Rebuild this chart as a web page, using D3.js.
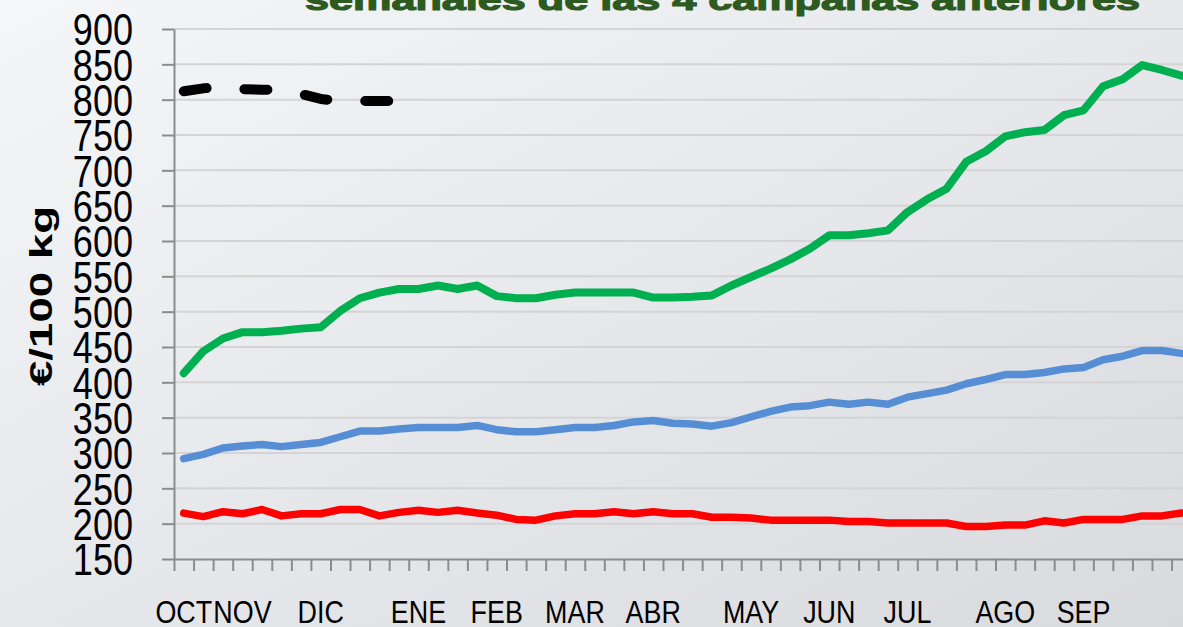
<!DOCTYPE html>
<html>
<head>
<meta charset="utf-8">
<script src="https://cdn.jsdelivr.net/npm/d3@7"></script>
<style>
  html, body { margin: 0; padding: 0; overflow: hidden; }
  svg { display: block; }
</style>
</head>
<body>
<svg id="chart" width="1183" height="627"></svg>
<script>
// ---- data ----
const weeks = d3.range(52);
const monthLabels = ["OCT","NOV","DIC","ENE","FEB","MAR","ABR","MAY","JUN","JUL","AGO","SEP"];
const monthWeek   = [0, 3, 7, 12, 16, 20, 24, 29, 33, 37, 42, 46];
const yTicks = [150,200,250,300,350,400,450,500,550,600,650,700,750,800,850,900];

const greenSeries = [413,444,462,471,471,473,476,478,501,519,527,532,532,537,532,537,522,519,519,524,
                     527,527,527,527,520,520,521,523,537,549,561,574,589,608,608,611,615,641,659,674,
                     712,727,748,754,757,778,785,819,829,849,842,834];
const blueSeries  = [292,298,307,310,312,309,312,315,323,331,331,334,336,336,336,339,333,330,330,333,
                     336,336,339,344,346,342,341,338,343,351,359,365,367,372,369,372,369,379,384,389,
                     398,404,411,411,414,419,421,432,437,445,445,441];
const redSeries   = [215,210,217,214,220,211,214,214,220,220,211,216,219,216,219,215,212,206,205,211,
                     214,214,217,214,217,214,214,209,209,208,205,205,205,205,203,203,201,201,201,201,
                     196,196,198,198,204,201,206,206,206,211,211,215];
const blackSeries = [812,816,818,815,814,814,808,801,798,798,798,798];

const titleText = "semanales de las 4 campañas anteriores";
const yTitle = "€/100 kg";

// ---- layout ----
const W = 1183, H = 627;
const plotLeft = 174, step = 19.56, plotTop = 29, plotBottom = 559;
const svg = d3.select("#chart");

const defs = svg.append("defs");
const grad = defs.append("linearGradient").attr("id","bg")
  .attr("x1","0").attr("y1","0").attr("x2","1").attr("y2","1");
grad.append("stop").attr("offset","0%").attr("stop-color","#f5f6f8");
grad.append("stop").attr("offset","100%").attr("stop-color","#d9dade");
svg.append("rect").attr("width",W).attr("height",H).attr("fill","url(#bg)");

const x = d3.scaleBand().domain(weeks).range([plotLeft, plotLeft + weeks.length*step]);
const xLin = d3.scaleLinear().domain([0, weeks.length]).range([plotLeft, plotLeft + weeks.length*step]);
const y = d3.scaleLinear().domain([150, 900]).range([plotBottom, plotTop]);
const cx = i => x(i) + x.bandwidth()/2;

// gridlines
svg.append("g").selectAll("line").data(yTicks.filter(t => t > 150)).join("line")
  .attr("x1", plotLeft).attr("x2", W)
  .attr("y1", d => y(d)).attr("y2", d => y(d))
  .attr("stroke","#d4d4d6").attr("stroke-width",2);

// y axis
const yAx = svg.append("g").attr("transform",`translate(${plotLeft},0)`)
  .call(d3.axisLeft(y).tickValues(yTicks).tickSize(12).tickSizeOuter(0).tickFormat(d3.format("d")));
yAx.select(".domain").attr("stroke","#8c8c8c").attr("stroke-width",2);
yAx.selectAll(".tick line").attr("stroke","#8c8c8c").attr("stroke-width",2);
yAx.selectAll(".tick text")
  .attr("x",0).attr("dy","0.36em")
  .attr("transform","translate(-41,0) scale(0.82,1)")
  .attr("fill","#000")
  .style("font-family","'Liberation Sans', Arial, sans-serif")
  .style("font-size","44px");

// x axis tick marks
const xAx = svg.append("g").attr("transform",`translate(0,${plotBottom})`)
  .call(d3.axisBottom(xLin).tickValues(d3.range(0, weeks.length+1)).tickSize(12).tickSizeOuter(0).tickFormat(""));
xAx.select(".domain").attr("stroke","#8c8c8c").attr("stroke-width",2);
xAx.selectAll(".tick line").attr("stroke","#8c8c8c").attr("stroke-width",2);

// month labels
const monthScale = d3.scaleOrdinal().domain(monthWeek).range(monthLabels);
const xLab = svg.append("g").attr("transform",`translate(0,${plotBottom})`)
  .call(d3.axisBottom(x).tickValues(monthWeek).tickSize(0).tickFormat(d => monthScale(d)));
xLab.select(".domain").remove();
xLab.selectAll(".tick text")
  .attr("y",0).attr("dy",0)
  .attr("transform","translate(0,64) scale(0.84,1)")
  .attr("fill","#000")
  .style("font-family","'Liberation Sans', Arial, sans-serif")
  .style("font-size","32px");

// lines
const line = d3.line().x((d,i) => cx(i)).y(d => y(d));
function drawLine(data, color, width, dash) {
  const p = svg.append("path").datum(data)
    .attr("d", line)
    .attr("fill","none")
    .attr("stroke", color)
    .attr("stroke-width", width)
    .attr("stroke-linejoin","round")
    .attr("stroke-linecap","round");
  if (dash) p.attr("stroke-dasharray", dash);
}
drawLine(greenSeries, "#00b050", 8);
drawLine(blueSeries, "#558ed5", 7.5);
drawLine(redSeries, "#ff0000", 7.5);
drawLine(blackSeries, "#000000", 10, "23,38");

// y title
svg.append("text")
  .attr("transform","translate(52,296) rotate(-90)")
  .attr("text-anchor","middle")
  .attr("textLength",180).attr("lengthAdjust","spacingAndGlyphs")
  .style("font-family","'Liberation Sans', Arial, sans-serif")
  .style("font-weight","bold").style("font-size","32px")
  .attr("fill","#000")
  .text(yTitle);

// title (cut at top)
svg.append("text")
  .attr("x",305).attr("y",10)
  .attr("textLength",835).attr("lengthAdjust","spacingAndGlyphs")
  .style("font-family","'Liberation Sans', Arial, sans-serif")
  .style("font-weight","bold").style("font-size","30px")
  .attr("fill","#2d5b1f").attr("stroke","#2d5b1f").attr("stroke-width",1.2)
  .text(titleText);
</script>
</body>
</html>
